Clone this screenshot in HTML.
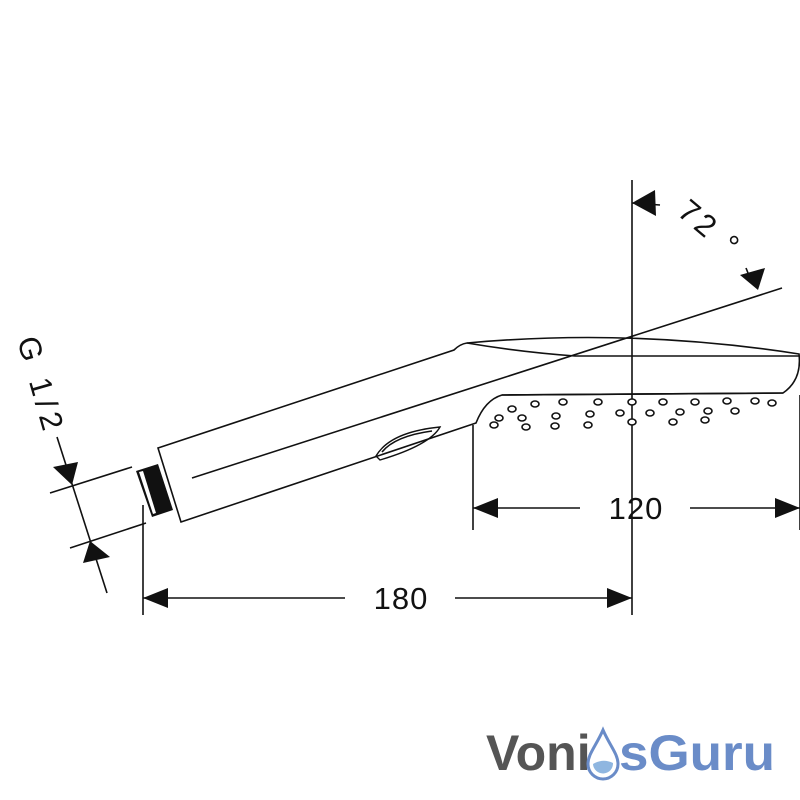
<!DOCTYPE html>
<html><head><style>
html,body{margin:0;padding:0;background:#fff;}
svg{display:block}
</style></head><body>
<svg width="800" height="800" viewBox="0 0 800 800" xmlns="http://www.w3.org/2000/svg">
<g fill="none" stroke="#111" stroke-width="1.6">
<path d="M158,448 L454,350 Q460,344 467,343 Q632,328 799,354 Q802,380 783,393 L502,395 Q485,400 476,423 L181,522 Z"/>
<path d="M467,343 Q520,352 575,356 L799,356"/>
<path d="M502,395 L783,393"/>
<path d="M376,456 Q390,432 440,427 Q430,445 380,460 Z" stroke-width="1.4"/>
<path d="M382,452 Q395,436 432,431"/>
<line x1="192" y1="478" x2="782" y2="288"/>
<line x1="632" y1="180" x2="632" y2="615"/>
<line x1="473" y1="425" x2="473" y2="530"/>
<line x1="800" y1="395" x2="800" y2="530"/>
<line x1="473" y1="508" x2="580" y2="508"/>
<line x1="690" y1="508" x2="800" y2="508"/>
<line x1="143" y1="505" x2="143" y2="615"/>
<line x1="143" y1="598" x2="345" y2="598"/>
<line x1="455" y1="598" x2="632" y2="598"/>
<line x1="50" y1="493" x2="132" y2="467"/>
<line x1="70" y1="548" x2="146" y2="523"/>
<line x1="57" y1="437" x2="107" y2="593"/>
<line x1="632" y1="203" x2="660" y2="205"/>
<line x1="746" y1="268" x2="750" y2="278"/>
</g>
<!-- thread -->
<path d="M136,471 L158,464 L173,510 L152,517 Z" fill="#111"/>
<path d="M139,472 L143,471 L156,513 L153,514 Z" fill="#fff"/>
<g fill="#111">
<polygon points="473,508 498,498 498,518"/>
<polygon points="800,508 775,498 775,518"/>
<polygon points="143,598 168,588 168,608"/>
<polygon points="632,598 607,588 607,608"/>
<polygon points="632,203 655,190 656,216"/>
<polygon points="758,290 740,275 765,268"/>
<polygon points="72,485 53,467 78,462"/>
<polygon points="90,541 83,563 110,557"/>
</g>
<g fill="#fff" stroke="#111" stroke-width="1.6">
<ellipse cx="512" cy="409" rx="4" ry="3"/><ellipse cx="535" cy="404" rx="4" ry="3"/><ellipse cx="563" cy="402" rx="4" ry="3"/>
<ellipse cx="598" cy="402" rx="4" ry="3"/><ellipse cx="632" cy="402" rx="4" ry="3"/><ellipse cx="663" cy="402" rx="4" ry="3"/>
<ellipse cx="695" cy="402" rx="4" ry="3"/><ellipse cx="727" cy="401" rx="4" ry="3"/><ellipse cx="755" cy="401" rx="4" ry="3"/><ellipse cx="772" cy="403" rx="4" ry="3"/>
<ellipse cx="499" cy="418" rx="4" ry="3"/><ellipse cx="522" cy="418" rx="4" ry="3"/><ellipse cx="556" cy="416" rx="4" ry="3"/>
<ellipse cx="590" cy="414" rx="4" ry="3"/><ellipse cx="620" cy="413" rx="4" ry="3"/><ellipse cx="650" cy="413" rx="4" ry="3"/>
<ellipse cx="680" cy="412" rx="4" ry="3"/><ellipse cx="708" cy="411" rx="4" ry="3"/><ellipse cx="735" cy="411" rx="4" ry="3"/>
<ellipse cx="494" cy="425" rx="4" ry="3"/><ellipse cx="526" cy="427" rx="4" ry="3"/><ellipse cx="555" cy="426" rx="4" ry="3"/>
<ellipse cx="588" cy="425" rx="4" ry="3"/><ellipse cx="632" cy="422" rx="4" ry="3"/><ellipse cx="673" cy="422" rx="4" ry="3"/>
<ellipse cx="705" cy="420" rx="4" ry="3"/>
</g>
<g font-family="Liberation Sans, sans-serif" fill="#111">
<text x="636" y="519" font-size="31" text-anchor="middle" letter-spacing="1">120</text>
<text x="401" y="609" font-size="31" text-anchor="middle" letter-spacing="1">180</text>
<text x="0" y="0" font-size="31" letter-spacing="4" transform="translate(676,214) rotate(40)">72 °</text>
<text x="0" y="0" font-size="31" letter-spacing="5" transform="translate(17,340) rotate(74)">G 1/2</text>
</g>
<g font-family="Liberation Sans, sans-serif" font-weight="bold" font-size="50">
<text x="486" y="770" fill="#555">Voni</text>
<path d="M603,730 C596,746 588,754 588,764 A15,15 0 0 0 618,764 C618,754 610,746 603,730 Z" fill="none" stroke="#6a8cc8" stroke-width="3"/>
<path d="M593,764 Q603,758 613,763 A10,10 0 0 1 593,764 Z" fill="#8fb6e0"/>
<text x="619" y="770" fill="#6a8cc8" textLength="156" lengthAdjust="spacingAndGlyphs">sGuru</text>
</g>
</svg>
</body></html>
